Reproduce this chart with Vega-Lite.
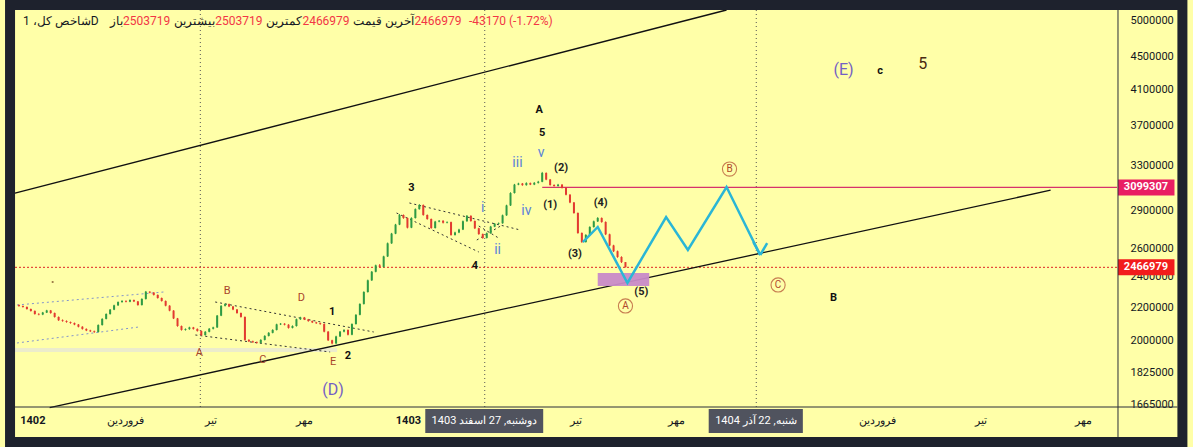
{
  "$schema": "https://vega.github.io/schema/vega-lite/v6.json",
  "width": 1112,
  "height": 397,
  "autosize": "none",
  "padding": {"left": 10, "top": 10, "right": 71, "bottom": 40},
  "background": "#ffffa8",
  "config": {"view": {"stroke": null}},
  "datasets": {
    "candles": [
      {"b":1,"o":2215,"h":2219,"l":2204,"c":2209},{"b":2,"o":2209,"h":2212,"l":2199,"c":2203},{"b":3,"o":2203,"h":2206,"l":2186,"c":2190},{"b":4,"o":2190,"h":2193,"l":2174,"c":2178},{"b":5,"o":2178,"h":2181,"l":2155,"c":2159},
      {"b":6,"o":2159,"h":2164,"l":2151,"c":2156},{"b":7,"o":2156,"h":2172,"l":2152,"c":2168},{"b":8,"o":2168,"h":2185,"l":2165,"c":2181},{"b":9,"o":2181,"h":2184,"l":2161,"c":2165},{"b":10,"o":2165,"h":2168,"l":2137,"c":2141},
      {"b":11,"o":2141,"h":2144,"l":2117,"c":2121},{"b":12,"o":2121,"h":2126,"l":2112,"c":2116},{"b":13,"o":2116,"h":2120,"l":2106,"c":2110},{"b":14,"o":2110,"h":2113,"l":2100,"c":2104},{"b":15,"o":2104,"h":2107,"l":2091,"c":2095},
      {"b":16,"o":2095,"h":2098,"l":2078,"c":2082},{"b":17,"o":2082,"h":2085,"l":2065,"c":2069},{"b":18,"o":2069,"h":2072,"l":2056,"c":2060},{"b":19,"o":2060,"h":2064,"l":2051,"c":2055},{"b":20,"o":2055,"h":2059,"l":2046,"c":2051},
      {"b":21,"o":2051,"h":2096,"l":2048,"c":2092},{"b":22,"o":2092,"h":2133,"l":2089,"c":2129},{"b":23,"o":2129,"h":2163,"l":2126,"c":2159},{"b":24,"o":2159,"h":2190,"l":2155,"c":2186},{"b":25,"o":2186,"h":2217,"l":2183,"c":2213},
      {"b":26,"o":2213,"h":2238,"l":2210,"c":2234},{"b":27,"o":2234,"h":2246,"l":2230,"c":2241},{"b":28,"o":2241,"h":2245,"l":2232,"c":2236},{"b":29,"o":2236,"h":2251,"l":2233,"c":2247},{"b":30,"o":2247,"h":2250,"l":2234,"c":2238},
      {"b":31,"o":2238,"h":2241,"l":2211,"c":2215},{"b":32,"o":2215,"h":2258,"l":2212,"c":2254},{"b":33,"o":2254,"h":2306,"l":2250,"c":2301},{"b":34,"o":2301,"h":2304,"l":2291,"c":2295},{"b":35,"o":2295,"h":2298,"l":2276,"c":2280},
      {"b":36,"o":2280,"h":2283,"l":2256,"c":2260},{"b":37,"o":2260,"h":2263,"l":2237,"c":2241},{"b":38,"o":2241,"h":2244,"l":2207,"c":2211},{"b":39,"o":2211,"h":2214,"l":2176,"c":2180},{"b":40,"o":2180,"h":2183,"l":2128,"c":2132},
      {"b":41,"o":2132,"h":2135,"l":2082,"c":2086},{"b":42,"o":2086,"h":2089,"l":2059,"c":2063},{"b":43,"o":2063,"h":2072,"l":2059,"c":2068},{"b":44,"o":2068,"h":2082,"l":2064,"c":2078},{"b":45,"o":2078,"h":2081,"l":2065,"c":2069},
      {"b":46,"o":2069,"h":2072,"l":2053,"c":2057},{"b":47,"o":2057,"h":2060,"l":2029,"c":2033},{"b":48,"o":2033,"h":2056,"l":2030,"c":2052},{"b":49,"o":2052,"h":2074,"l":2049,"c":2070},{"b":50,"o":2070,"h":2082,"l":2066,"c":2078},
      {"b":51,"o":2078,"h":2153,"l":2075,"c":2149},{"b":52,"o":2149,"h":2214,"l":2146,"c":2210},{"b":53,"o":2210,"h":2226,"l":2206,"c":2221},{"b":54,"o":2221,"h":2224,"l":2202,"c":2206},{"b":55,"o":2206,"h":2209,"l":2183,"c":2187},
      {"b":56,"o":2187,"h":2190,"l":2161,"c":2165},{"b":57,"o":2165,"h":2168,"l":2137,"c":2141},{"b":58,"o":2141,"h":2144,"l":2001,"c":2005},{"b":59,"o":2005,"h":2009,"l":1993,"c":1997},{"b":60,"o":1997,"h":2001,"l":1988,"c":1992},
      {"b":61,"o":1992,"h":1996,"l":1984,"c":1988},{"b":62,"o":1988,"h":2009,"l":1985,"c":2005},{"b":63,"o":2005,"h":2032,"l":2002,"c":2028},{"b":64,"o":2028,"h":2050,"l":2025,"c":2046},{"b":65,"o":2046,"h":2067,"l":2043,"c":2063},
      {"b":66,"o":2063,"h":2100,"l":2060,"c":2096},{"b":67,"o":2096,"h":2104,"l":2092,"c":2100},{"b":68,"o":2100,"h":2103,"l":2090,"c":2094},{"b":69,"o":2094,"h":2097,"l":2071,"c":2075},{"b":70,"o":2075,"h":2090,"l":2072,"c":2086},
      {"b":71,"o":2086,"h":2131,"l":2083,"c":2127},{"b":72,"o":2127,"h":2142,"l":2123,"c":2138},{"b":73,"o":2138,"h":2141,"l":2122,"c":2126},{"b":74,"o":2126,"h":2129,"l":2112,"c":2116},{"b":75,"o":2116,"h":2119,"l":2104,"c":2108},
      {"b":76,"o":2108,"h":2111,"l":2099,"c":2103},{"b":77,"o":2103,"h":2106,"l":2094,"c":2098},{"b":78,"o":2098,"h":2101,"l":2049,"c":2053},{"b":79,"o":2053,"h":2056,"l":1999,"c":2003},{"b":80,"o":2003,"h":2006,"l":1980,"c":1985},
      {"b":81,"o":1985,"h":2029,"l":1982,"c":2025},{"b":82,"o":2025,"h":2057,"l":2022,"c":2053},{"b":83,"o":2053,"h":2067,"l":2049,"c":2063},{"b":84,"o":2063,"h":2066,"l":2031,"c":2035},{"b":85,"o":2035,"h":2102,"l":2032,"c":2098},
      {"b":86,"o":2098,"h":2158,"l":2095,"c":2154},{"b":87,"o":2154,"h":2226,"l":2151,"c":2222},{"b":88,"o":2222,"h":2304,"l":2218,"c":2299},{"b":89,"o":2299,"h":2382,"l":2295,"c":2377},{"b":90,"o":2377,"h":2441,"l":2373,"c":2436},
      {"b":91,"o":2436,"h":2486,"l":2432,"c":2481},{"b":92,"o":2481,"h":2490,"l":2465,"c":2470},{"b":93,"o":2470,"h":2550,"l":2466,"c":2545},{"b":94,"o":2545,"h":2648,"l":2541,"c":2642},{"b":95,"o":2642,"h":2722,"l":2638,"c":2716},
      {"b":96,"o":2716,"h":2793,"l":2712,"c":2787},{"b":97,"o":2787,"h":2872,"l":2783,"c":2865},{"b":98,"o":2865,"h":2869,"l":2834,"c":2840},{"b":99,"o":2840,"h":2844,"l":2757,"c":2763},{"b":100,"o":2763,"h":2846,"l":2759,"c":2840},
      {"b":101,"o":2840,"h":2919,"l":2836,"c":2913},{"b":102,"o":2913,"h":2955,"l":2909,"c":2948},{"b":103,"o":2948,"h":2952,"l":2859,"c":2865},{"b":104,"o":2865,"h":2869,"l":2826,"c":2832},{"b":105,"o":2832,"h":2836,"l":2754,"c":2760},
      {"b":106,"o":2760,"h":2817,"l":2756,"c":2811},{"b":107,"o":2811,"h":2824,"l":2806,"c":2818},{"b":108,"o":2818,"h":2822,"l":2796,"c":2802},{"b":109,"o":2802,"h":2813,"l":2797,"c":2807},{"b":110,"o":2807,"h":2811,"l":2700,"c":2706},
      {"b":111,"o":2706,"h":2731,"l":2701,"c":2725},{"b":112,"o":2725,"h":2754,"l":2720,"c":2748},{"b":113,"o":2748,"h":2820,"l":2744,"c":2814},{"b":114,"o":2814,"h":2864,"l":2810,"c":2858},{"b":115,"o":2858,"h":2862,"l":2810,"c":2816},
      {"b":116,"o":2816,"h":2820,"l":2752,"c":2758},{"b":117,"o":2758,"h":2762,"l":2707,"c":2713},{"b":118,"o":2713,"h":2717,"l":2677,"c":2683},{"b":119,"o":2683,"h":2725,"l":2679,"c":2719},{"b":120,"o":2719,"h":2777,"l":2715,"c":2771},
      {"b":121,"o":2771,"h":2800,"l":2767,"c":2794},{"b":122,"o":2794,"h":2804,"l":2789,"c":2798},{"b":123,"o":2798,"h":2868,"l":2794,"c":2862},{"b":124,"o":2862,"h":2950,"l":2858,"c":2944},{"b":125,"o":2944,"h":3057,"l":2940,"c":3050},
      {"b":126,"o":3050,"h":3131,"l":3046,"c":3124},{"b":127,"o":3124,"h":3141,"l":3119,"c":3134},{"b":128,"o":3134,"h":3139,"l":3114,"c":3120},{"b":129,"o":3120,"h":3145,"l":3115,"c":3138},{"b":130,"o":3138,"h":3143,"l":3120,"c":3125},
      {"b":131,"o":3125,"h":3147,"l":3120,"c":3140},{"b":132,"o":3140,"h":3158,"l":3134,"c":3150},{"b":133,"o":3150,"h":3240,"l":3146,"c":3230},{"b":134,"o":3230,"h":3236,"l":3164,"c":3170},{"b":135,"o":3170,"h":3175,"l":3115,"c":3121},
      {"b":136,"o":3121,"h":3127,"l":3106,"c":3112},{"b":137,"o":3112,"h":3131,"l":3107,"c":3124},{"b":138,"o":3124,"h":3129,"l":3090,"c":3096},{"b":139,"o":3096,"h":3100,"l":3030,"c":3036},{"b":140,"o":3036,"h":3040,"l":2963,"c":2969},
      {"b":141,"o":2969,"h":2973,"l":2875,"c":2881},{"b":142,"o":2881,"h":2886,"l":2715,"c":2721},{"b":143,"o":2721,"h":2726,"l":2645,"c":2652},{"b":144,"o":2652,"h":2712,"l":2647,"c":2706},{"b":145,"o":2706,"h":2774,"l":2701,"c":2768},
      {"b":146,"o":2768,"h":2819,"l":2763,"c":2813},{"b":147,"o":2813,"h":2847,"l":2808,"c":2840},{"b":148,"o":2840,"h":2845,"l":2802,"c":2808},{"b":149,"o":2808,"h":2813,"l":2705,"c":2711},{"b":150,"o":2711,"h":2716,"l":2620,"c":2626},
      {"b":151,"o":2626,"h":2631,"l":2577,"c":2583},{"b":152,"o":2583,"h":2588,"l":2535,"c":2541},{"b":153,"o":2541,"h":2546,"l":2498,"c":2504},{"b":154,"o":2504,"h":2504,"l":2467,"c":2467}
    ],
    "chan": [{"g":"lo","b":8.75,"p":1652.6},{"g":"lo","b":261.25,"p":3074.8},{"g":"up","b":0,"p":3050.4},{"g":"up","b":179.5,"p":5144.9}],
    "dots": [
      {"g":"t1","b":50.5,"p":2234.4},{"g":"t1","b":90.5,"p":2050.9},
      {"g":"t2","b":45.5,"p":2033.4},{"g":"t2","b":79.5,"p":1937.0},
      {"g":"f1","b":99.5,"p":2964.6},{"g":"f1","b":127.5,"p":2744.5},
      {"g":"f2","b":96.25,"p":2881.1},{"g":"f2","b":117,"p":2577.4},
      {"g":"f3","b":116.5,"p":2667.2},{"g":"f3","b":122.5,"p":2776.1},
      {"g":"f4","b":117,"p":2776.1},{"g":"f4","b":122,"p":2682.4}
    ],
    "bdots": [{"g":"u","b":0.5,"p":2215.3},{"g":"u","b":37.5,"p":2299.1},{"g":"l","b":0.5,"p":1987.5},{"g":"l","b":31.25,"p":2080.4}],
    "cyan": [
      {"g":"path","b":143.25,"p":2652.0},{"g":"path","b":147,"p":2768.2},{"g":"path","b":154.5,"p":2359.0},{"g":"path","b":164.25,"p":2848.4},{"g":"path","b":169.75,"p":2592.1},{"g":"path","b":179.5,"p":3103.2},{"g":"path","b":188,"p":2555.4},
      {"g":"w1","b":186.25,"p":2652.0},{"g":"w1","b":188,"p":2555.4},
      {"g":"w2","b":188,"p":2555.4},{"g":"w2","b":189.75,"p":2644.4}
    ],
    "vlines": [{"b":46.75},{"b":118.5},{"b":187}],
    "band": [{"b":0,"p":1948.1},{"b":81.25,"p":1948.1}],
    "resist": [{"b":133,"p":3099.307},{"b":278,"p":3099.307}],
    "last": [{"b":0,"p":2466.979},{"b":278,"p":2466.979}],
    "zone": [{"b":147,"b2":160,"p":2427.4,"p2":2338.9}],
    "brown": [{"b":53.5,"p":2305.7,"t":"B"},{"b":72.25,"p":2260.1,"t":"D"},{"b":46.5,"p":1931.5,"t":"A"},{"b":62.5,"p":1893.2,"t":"C"},{"b":80.25,"p":1882.5,"t":"E"}],
    "black": [{"b":80,"p":2171.5,"t":"1"},{"b":84,"p":1914.9,"t":"2"},{"b":100,"p":3094.2,"t":"3"},{"b":116,"p":2476.3,"t":"4"},{"b":132.25,"p":3866.6,"t":"A"},{"b":133,"p":3620.7,"t":"5"},{"b":218.25,"p":4322.2,"t":"c"},{"b":206.5,"p":2260.1,"t":"B"}],
    "blue": [{"b":118,"p":2922.6,"t":"i"},{"b":121.75,"p":2592.1,"t":"ii"},{"b":126.75,"p":3323.4,"t":"iii"},{"b":129,"p":2897.6,"t":"iv"},{"b":132.75,"p":3419.7,"t":"v"}],
    "paren": [{"b":137.75,"p":3276.2,"t":"(2)"},{"b":135,"p":2947.7,"t":"(1)"},{"b":141.25,"p":2562.7,"t":"(3)"},{"b":147.75,"p":2964.6,"t":"(4)"},{"b":158,"p":2299.1,"t":"(5)"}],
    "circ": [{"b":154,"p":2209.0,"t":"A"},{"b":180.25,"p":3266.8,"t":"B"},{"b":192.5,"p":2345.6,"t":"C"}],
    "purple": [{"b":80.25,"p":1737.9,"t":"(D)"},{"b":209,"p":4334.5,"t":"(E)"}],
    "five": [{"b":229,"p":4409.5,"t":"5"}],
    "dot": [{"b":9.5,"p":2365.7}],
    "hdrTitle": [{"b":2,"p":4985.7,"t":"شاخص کل، 1D"}],
    "hdrLab": [{"b":27.25,"p":4985.7,"t":"باز"},{"b":50.5,"p":4985.7,"t":"بیشترین"},{"b":72.5,"p":4985.7,"t":"کمترین"},{"b":100.75,"p":4985.7,"t":"آخرین قیمت"}],
    "hdrVal": [{"b":27.25,"p":4985.7,"t":"2503719"},{"b":50.5,"p":4985.7,"t":"2503719"},{"b":72.5,"p":4985.7,"t":"2466979"},{"b":100.75,"p":4985.7,"t":"2466979"},{"b":114.5,"p":4985.7,"t":"-43170 (-1.72%)"}],
    "xlab": [{"b":27.75,"p":1590.6,"t":"فروردین"},{"b":49.5,"p":1590.6,"t":"تیر"},{"b":73,"p":1590.6,"t":"مهر"},{"b":141.5,"p":1590.6,"t":"تیر"},{"b":166.75,"p":1590.6,"t":"مهر"},{"b":217.5,"p":1590.6,"t":"فروردین"},{"b":243.75,"p":1590.6,"t":"تیر"},{"b":269.5,"p":1590.6,"t":"مهر"}],
    "xyear": [{"b":4.5,"p":1590.6,"t":"1402"},{"b":99.25,"p":1590.6,"t":"1403"}],
    "xboxes": [{"b":103.5,"b2":133.25,"p":1646.1,"p2":1537.0},{"b":175,"b2":198.75,"p":1646.1,"p2":1537.0}],
    "xbox": [{"b":118.4,"p":1590.6,"t":"دوشنبه, 27 اسفند 1403"},{"b":186.9,"p":1590.6,"t":"شنبه, 22 آذر 1404"}],
    "tagPink": [{"b":278.25,"b2":292.5,"p":3171.0,"p2":3029.2}],
    "tagRed": [{"b":278.25,"b2":292.5,"p":2524.0,"p2":2411.3}],
    "tags": [{"b":285.3,"p":3099.307,"t":"3099307"},{"b":285.3,"p":2466.979,"t":"2466979"}],
    "sepV": [{"b":278.25,"p":5144.9,"p2":1519.5}],
    "sepH": [{"b":0,"b2":293.25,"p":1655.4}],
    "frame": [{"b":-1.25,"b2":294.5,"p":5219.0,"p2":1498.0}]
  },
  "encoding": {
    "x": {"field": "b", "type": "quantitative", "scale": {"domain": [0, 278], "nice": false, "zero": false}, "axis": null},
    "y": {"field": "p", "type": "quantitative", "scale": {"type": "log", "domain": [1655.4, 5144.9], "nice": false, "zero": false},
      "axis": {"orient": "right", "title": null, "values": [1665, 1825, 2000, 2200, 2400, 2600, 2900, 3300, 3700, 4100, 4500, 5000],
        "labelExpr": "format(datum.value*1000,'d')", "ticks": false, "domain": false, "grid": false, "labelPadding": 8,
        "labelFont": "Roboto", "labelFontSize": 11, "labelColor": "#131722", "labelOverlap": false, "labelFlush": false}}
  },
  "layer": [
    {"data": {"name": "band"}, "mark": {"type": "line", "color": "#ececcc", "strokeWidth": 4}, "encoding": {}},
    {"data": {"name": "vlines"}, "mark": {"type": "rule", "color": "#555555", "strokeWidth": 1, "strokeDash": [1, 3]}, "encoding": {"y": {"value": 0}, "y2": {"value": 397}}},
    {"data": {"name": "last"}, "mark": {"type": "line", "color": "#e02424", "strokeWidth": 1, "strokeDash": [2, 2]}, "encoding": {}},
    {"data": {"name": "resist"}, "mark": {"type": "line", "color": "#d6336c", "strokeWidth": 1.2}, "encoding": {}},
    {"data": {"name": "chan"}, "mark": {"type": "line", "color": "#111111", "strokeWidth": 1.3}, "encoding": {"detail": {"field": "g"}}},
    {"data": {"name": "dots"}, "mark": {"type": "line", "color": "#333333", "strokeWidth": 1, "strokeDash": [2, 3]}, "encoding": {"detail": {"field": "g"}}},
    {"data": {"name": "bdots"}, "mark": {"type": "line", "color": "#8294cc", "strokeWidth": 1, "strokeDash": [2, 3]}, "encoding": {"detail": {"field": "g"}}},
    {"data": {"name": "zone"}, "mark": {"type": "rect", "color": "#c88ac8", "opacity": 0.95}, "encoding": {"x2": {"field": "b2"}, "y2": {"field": "p2"}}},
    {"data": {"name": "candles"}, "mark": {"type": "rule", "strokeWidth": 1},
      "encoding": {"y": {"field": "l", "type": "quantitative", "scale": {"type": "log", "domain": [1655.4, 5144.9], "nice": false, "zero": false},
          "axis": {"orient": "right", "title": null, "values": [1665, 1825, 2000, 2200, 2400, 2600, 2900, 3300, 3700, 4100, 4500, 5000],
            "labelExpr": "format(datum.value*1000,'d')", "ticks": false, "domain": false, "grid": false, "labelPadding": 8,
            "labelFont": "Roboto", "labelFontSize": 11, "labelColor": "#131722", "labelOverlap": false, "labelFlush": false}},
        "y2": {"field": "h"},
        "color": {"condition": {"test": "datum.c >= datum.o", "value": "#2e9a44"}, "value": "#e23a30"}}},
    {"data": {"name": "candles"}, "mark": {"type": "bar", "width": 2},
      "encoding": {"y": {"field": "o", "type": "quantitative", "scale": {"type": "log", "domain": [1655.4, 5144.9], "nice": false, "zero": false},
          "axis": {"orient": "right", "title": null, "values": [1665, 1825, 2000, 2200, 2400, 2600, 2900, 3300, 3700, 4100, 4500, 5000],
            "labelExpr": "format(datum.value*1000,'d')", "ticks": false, "domain": false, "grid": false, "labelPadding": 8,
            "labelFont": "Roboto", "labelFontSize": 11, "labelColor": "#131722", "labelOverlap": false, "labelFlush": false}},
        "y2": {"field": "c"},
        "color": {"condition": {"test": "datum.c >= datum.o", "value": "#2e9a44"}, "value": "#e23a30"}}},
    {"data": {"name": "cyan"}, "mark": {"type": "line", "color": "#2ab6d6", "strokeWidth": 2.5, "strokeJoin": "miter"}, "encoding": {"detail": {"field": "g"}}},
    {"data": {"name": "brown"}, "mark": {"type": "text", "font": "Roboto", "fontSize": 11, "color": "#a8442a", "baseline": "middle"}, "encoding": {"text": {"field": "t"}}},
    {"data": {"name": "black"}, "mark": {"type": "text", "font": "Roboto", "fontSize": 11, "fontWeight": "bold", "color": "#111111", "baseline": "middle"}, "encoding": {"text": {"field": "t"}}},
    {"data": {"name": "blue"}, "mark": {"type": "text", "font": "Roboto", "fontSize": 14, "color": "#5a84d8", "baseline": "middle"}, "encoding": {"text": {"field": "t"}}},
    {"data": {"name": "paren"}, "mark": {"type": "text", "font": "Roboto", "fontSize": 11, "fontWeight": "bold", "color": "#222222", "baseline": "middle"}, "encoding": {"text": {"field": "t"}}},
    {"data": {"name": "circ"}, "mark": {"type": "point", "shape": "circle", "filled": false, "size": 200, "color": "#b0472c", "strokeWidth": 1.1}, "encoding": {}},
    {"data": {"name": "circ"}, "mark": {"type": "text", "font": "Roboto", "fontSize": 10, "color": "#b0472c", "baseline": "middle"}, "encoding": {"text": {"field": "t"}}},
    {"data": {"name": "purple"}, "mark": {"type": "text", "font": "Roboto", "fontSize": 16, "color": "#7460c4", "baseline": "middle"}, "encoding": {"text": {"field": "t"}}},
    {"data": {"name": "five"}, "mark": {"type": "text", "font": "Roboto", "fontSize": 16, "color": "#4a2a10", "baseline": "middle"}, "encoding": {"text": {"field": "t"}}},
    {"data": {"name": "dot"}, "mark": {"type": "point", "shape": "circle", "filled": true, "size": 5, "color": "#6b3a1a"}, "encoding": {}},
    {"data": {"name": "hdrTitle"}, "mark": {"type": "text", "font": "Roboto", "fontSize": 12, "color": "#131722", "align": "left", "baseline": "middle"}, "encoding": {"text": {"field": "t"}}},
    {"data": {"name": "hdrLab"}, "mark": {"type": "text", "font": "Roboto", "fontSize": 12, "color": "#131722", "align": "right", "baseline": "middle"}, "encoding": {"text": {"field": "t"}}},
    {"data": {"name": "hdrVal"}, "mark": {"type": "text", "font": "Roboto", "fontSize": 12, "color": "#f23645", "align": "left", "baseline": "middle"}, "encoding": {"text": {"field": "t"}}},
    {"data": {"name": "xboxes"}, "mark": {"type": "rect", "color": "#50535e"}, "encoding": {"x2": {"field": "b2"}, "y2": {"field": "p2"}}},
    {"data": {"name": "xbox"}, "mark": {"type": "text", "font": "Roboto", "fontSize": 11, "color": "#ffffff", "baseline": "middle"}, "encoding": {"text": {"field": "t"}}},
    {"data": {"name": "xlab"}, "mark": {"type": "text", "font": "Roboto", "fontSize": 11, "color": "#131722", "baseline": "middle"}, "encoding": {"text": {"field": "t"}}},
    {"data": {"name": "xyear"}, "mark": {"type": "text", "font": "Roboto", "fontSize": 11, "fontWeight": "bold", "color": "#131722", "baseline": "middle"}, "encoding": {"text": {"field": "t"}}},
    {"data": {"name": "tagPink"}, "mark": {"type": "rect", "color": "#e91e63"}, "encoding": {"x2": {"field": "b2"}, "y2": {"field": "p2"}}},
    {"data": {"name": "tagRed"}, "mark": {"type": "rect", "color": "#f21c1c"}, "encoding": {"x2": {"field": "b2"}, "y2": {"field": "p2"}}},
    {"data": {"name": "tags"}, "mark": {"type": "text", "font": "Roboto", "fontSize": 11, "fontWeight": "bold", "color": "#ffffff", "baseline": "middle"}, "encoding": {"text": {"field": "t"}}},
    {"data": {"name": "sepV"}, "mark": {"type": "rule", "color": "#2a2e39", "strokeWidth": 1}, "encoding": {"y2": {"field": "p2"}}},
    {"data": {"name": "sepH"}, "mark": {"type": "rule", "color": "#2a2e39", "strokeWidth": 1}, "encoding": {"x2": {"field": "b2"}}},
    {"data": {"name": "frame"}, "mark": {"type": "rect", "fillOpacity": 0, "stroke": "#1e222d", "strokeWidth": 10}, "encoding": {"x2": {"field": "b2"}, "y2": {"field": "p2"}}}
  ]
}
